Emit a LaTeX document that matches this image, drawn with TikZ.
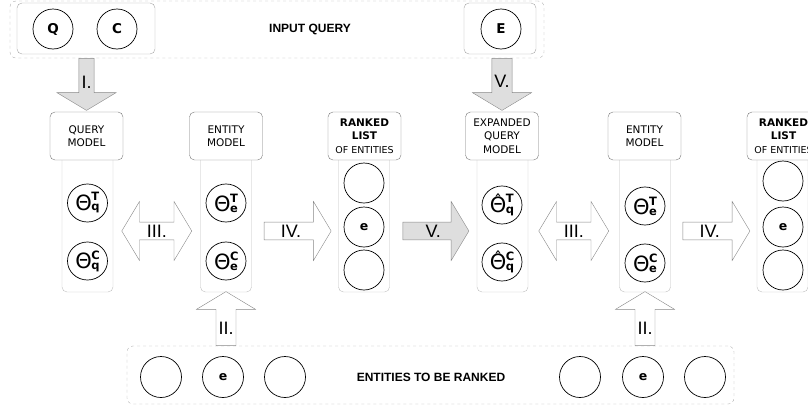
\documentclass[tikz,border=0pt]{standalone}
\usepackage{fontspec}
\setmainfont{DejaVu Sans}
\newfontfamily\lblfont{Liberation Sans}
\usetikzlibrary{shapes.arrows,shapes.geometric,positioning,calc}

\definecolor{hdrgray}{RGB}{120,120,120}
\definecolor{bodygray}{RGB}{190,190,190}
\definecolor{dashgray}{RGB}{175,175,175}
\definecolor{srcgray}{RGB}{165,165,165}
\definecolor{arrowfill}{RGB}{222,222,222}
\definecolor{arrowline}{RGB}{135,135,135}

% theta with super- and subscript
\newcommand{\thetapar}[3]{{\mdseries\fontsize{21}{21}\selectfont #1}\kern-0.5pt\makebox[0pt][l]{\raisebox{9.5pt}{\bfseries\fontsize{11.5}{11.5}\selectfont #2}}\raisebox{-0.5pt}{\bfseries\fontsize{11.5}{11.5}\selectfont #3}}
\newcommand{\hattheta}{\ooalign{Θ\cr\hidewidth\raisebox{5.5pt}{\fontsize{17}{17}\selectfont ˆ}\hidewidth\cr}}

\tikzset{
  grpbox/.style={draw=dashgray, dashed, rounded corners=6pt, inner sep=0pt},
  srcbox/.style={draw=srcgray, rounded corners=5pt, inner sep=0pt},
  hdrbox/.style={draw=hdrgray, fill=white, rounded corners=5pt, inner sep=0pt,
    minimum width=73pt, minimum height=48pt, align=center,
    font=\fontsize{10.5}{13.3}\selectfont},
  colbody/.style={draw=bodygray, rounded corners=5pt, inner sep=0pt,
    minimum width=51pt, minimum height=142pt},
  ent/.style={circle, draw, line width=0.7pt, minimum size=40pt, inner sep=0pt,
    font=\bfseries\fontsize{12.5}{12.5}\selectfont},
  thetacirc/.style={ent, ellipse, minimum width=40pt, minimum height=38pt},
  grptext/.style={font=\lblfont\bfseries\fontsize{12}{12}\selectfont},
  blockarrow/.style={single arrow, draw=arrowline, fill=white, inner sep=0pt,
    minimum width=59pt, single arrow head extend=15pt, single arrow tip angle=118,
    font=\lblfont\fontsize{18}{18}\selectfont},
  dblarrow/.style={double arrow, draw=arrowline, fill=white, inner sep=0pt,
    minimum width=59pt, double arrow head extend=15pt, double arrow tip angle=118,
    minimum height=70pt, font=\lblfont\fontsize{18}{18}\selectfont},
  grayarrow/.style={fill=arrowfill}
}

\begin{document}
\begin{tikzpicture}[x=1pt,y=-1pt]
\useasboundingbox (0,0) rectangle (808,407);
\clip (0,0) rectangle (808,407);

% input query
\node[grpbox, minimum width=534pt, minimum height=57pt] (inputgrp) at (277,29.5) {};
\node[srcbox, minimum width=138pt, minimum height=51pt] (qcbox) at (86,28.5) {};
\node[srcbox, minimum width=72pt, minimum height=51pt] (ebox) at (500,28.5) {};
\node[ent, font=\bfseries\fontsize{13.5}{13.5}\selectfont] (Q) at (53,29) {Q};
\node[ent, font=\bfseries\fontsize{13.5}{13.5}\selectfont] (C) at (117,29) {C};
\node[ent, font=\bfseries\fontsize{13.5}{13.5}\selectfont] (E) at (501,29) {E};
\node[grptext] (inputtxt) at (310,29) {INPUT QUERY};

% query model
\node[colbody] (qbody) at (87.5,221) {};
\node[hdrbox] (qhdr) at (86.5,136) {QUERY\\MODEL};
\node[thetacirc] (qT) at (87.5,203) {\thetapar{Θ}{T}{q}};
\node[thetacirc] (qC) at (87.5,261) {\thetapar{Θ}{C}{q}};

% entity model
\node[colbody] (ebody) at (226,221) {};
\node[hdrbox] (ehdr) at (226,136) {ENTITY\\MODEL};
\node[thetacirc] (eT) at (226,203) {\thetapar{Θ}{T}{e}};
\node[thetacirc] (eC) at (226,261) {\thetapar{Θ}{C}{e}};

% ranked list
\node[colbody] (rbody) at (364,221) {};
\node[hdrbox] (rhdr) at (364.5,136) {\textbf{RANKED}\\\textbf{LIST}\\{\fontsize{9.5}{11}\selectfont OF ENTITIES}};
\node[ent] (r1) at (364,183) {};
\node[ent] (r2) at (364,227) {e};
\node[ent] (r3) at (364,270) {};

% expanded query model
\node[colbody] (xbody) at (502.5,221) {};
\node[hdrbox] (xhdr) at (502,136) {EXPANDED\\QUERY\\MODEL};
\node[thetacirc] (xT) at (502,205) {\thetapar{\hattheta}{T}{q}};
\node[thetacirc] (xC) at (502,262) {\thetapar{\hattheta}{C}{q}};

% second entity model
\node[colbody] (fbody) at (645,221) {};
\node[hdrbox] (fhdr) at (644.5,136) {ENTITY\\MODEL};
\node[thetacirc] (fT) at (645,206) {\thetapar{Θ}{T}{e}};
\node[thetacirc] (fC) at (645,263) {\thetapar{Θ}{C}{e}};

% second ranked list
\node[colbody] (sbody) at (782.5,221) {};
\node[hdrbox] (shdr) at (783.5,136) {\textbf{RANKED}\\\textbf{LIST}\\{\fontsize{9.5}{11}\selectfont OF ENTITIES}};
\node[ent] (s1) at (783,181) {};
\node[ent] (s2) at (783,227) {e};
\node[ent] (s3) at (783,270) {};

% entities to be ranked
\node[grpbox, minimum width=607pt, minimum height=58pt] (entgrp) at (430.5,375) {};
\node[ent, minimum width=41pt, minimum height=39pt] (b1) at (161,377) {};
\node[ent, minimum width=41pt, minimum height=39pt] (b2) at (223,377) {e};
\node[ent, minimum width=41pt, minimum height=39pt] (b3) at (285,377) {};
\node[ent, minimum width=41pt, minimum height=39pt] (b4) at (580,377) {};
\node[ent, minimum width=41pt, minimum height=39pt] (b5) at (643,377) {e};
\node[ent, minimum width=41pt, minimum height=39pt] (b6) at (705,377) {};
\node[grptext] (enttxt) at (431,377) {ENTITIES TO BE RANKED};

% block arrows
\node[blockarrow, grayarrow, shape border rotate=270, minimum height=52pt, anchor=tail]
  (aI) at (qhdr |- inputgrp.south) {I.};
\node[blockarrow, grayarrow, shape border rotate=270, minimum height=52pt, anchor=tail]
  (aV) at (xhdr |- inputgrp.south) {V.};
\node[blockarrow, shape border rotate=90, minimum height=54pt, anchor=tail]
  (aII) at (ebody |- entgrp.north) {\raisebox{-7pt}[\height][\depth]{II.}};
\node[blockarrow, shape border rotate=90, minimum height=54pt, anchor=tail]
  (bII) at (fbody |- entgrp.north) {\raisebox{-7pt}[\height][\depth]{II.}};
\node[dblarrow] (aIII) at ($(qbody.east)!.5!(ebody.west)+(0,10)$) {III.};
\node[dblarrow] (bIII) at ($(xbody.east)!.5!(fbody.west)+(0,10)$) {III.};
\node[blockarrow, minimum height=67pt] (aIV) at ($(ebody.east)!.5!(rbody.west)+(0,10)$) {\kern-4pt IV.\kern4pt};
\node[blockarrow, minimum height=67pt] (bIV) at ($(fbody.east)!.5!(sbody.west)+(0,10)$) {\kern-4pt IV.\kern4pt};
\node[blockarrow, grayarrow, minimum height=66pt] (bV) at ($(rbody.east)!.5!(xbody.west)+(0,10)$) {V.};

\end{tikzpicture}
\end{document}
